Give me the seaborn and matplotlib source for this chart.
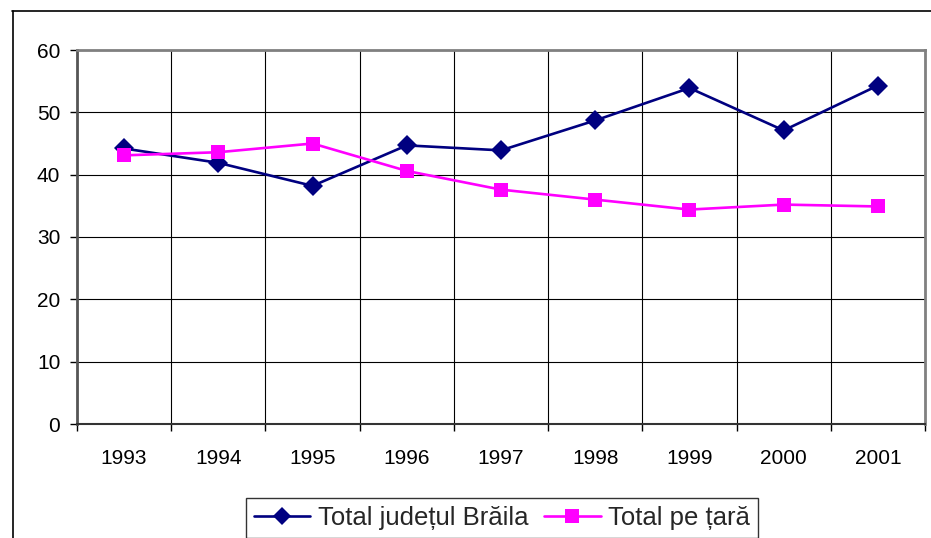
import pandas as pd
import numpy as np
import matplotlib.pyplot as plt
import seaborn as sns
from matplotlib.lines import Line2D

years = ['1993', '1994', '1995', '1996', '1997', '1998', '1999', '2000', '2001']
braila = [44.2, 41.9, 38.2, 44.7, 43.9, 48.7, 53.9, 47.1, 54.3]
tara = [43.1, 43.6, 45.0, 40.6, 37.6, 36.0, 34.4, 35.2, 34.9]
series_names = ['Total județul Brăila', 'Total pe țară']

df = pd.DataFrame({
    'An': years * 2,
    'Valoare': braila + tara,
    'Serie': [series_names[0]] * len(years) + [series_names[1]] * len(years),
})

sns.set_theme(style="white")
plt.rcParams['font.family'] = ['Liberation Sans', 'DejaVu Sans']

fig = plt.figure(figsize=(9.31, 5.38), dpi=100)
ax = fig.add_axes([77 / 931, 1 - 424 / 538, 848 / 931, 374 / 538])

colors = ['#000080', '#FF00FF']
sns.lineplot(data=df, x='An', y='Valoare', hue='Serie', style='Serie',
             markers=['D', 's'], dashes=False, palette=colors, sort=False,
             linewidth=1.9, markersize=10, markeredgewidth=0, ax=ax, legend=False)

ax.set_xlim(-0.5, len(years) - 0.5)
ax.set_ylim(0, 60)
ax.set_yticks(np.arange(0, 61, 10))
ax.set_xticks(range(len(years)))
ax.set_xticklabels(years)
ax.set_xticks(np.arange(-0.5, len(years), 1), minor=True)
ax.set_xlabel('')
ax.set_ylabel('')

ax.grid(True, axis='y', which='major', color='black', linewidth=0.8)
ax.grid(True, axis='x', which='minor', color='black', linewidth=0.8)
ax.grid(False, axis='x', which='major')
ax.set_axisbelow(True)

ax.tick_params(axis='y', which='major', length=5, width=1, color='black',
               direction='out', left=True, labelsize=15, pad=7, labelcolor='black')
ax.tick_params(axis='x', which='major', length=0, labelsize=15, pad=18, labelcolor='black')
ax.tick_params(axis='x', which='minor', length=5, width=1, color='black',
               direction='out', bottom=True)

for side in ['top', 'right']:
    ax.spines[side].set_color('#808080')
    ax.spines[side].set_linewidth(2)
ax.spines['left'].set_color('#555555')
ax.spines['left'].set_linewidth(2)
ax.spines['bottom'].set_color('#333333')
ax.spines['bottom'].set_linewidth(1.5)

handles = [
    Line2D([], [], color=colors[0], marker='D', markersize=9, linewidth=1.9, markeredgewidth=0),
    Line2D([], [], color=colors[1], marker='s', markersize=10, linewidth=1.9, markeredgewidth=0),
]
leg = fig.legend(handles, series_names, loc='center', bbox_to_anchor=(502 / 931, 1 - 518 / 538),
                 ncol=2, fontsize=18.5, frameon=True, fancybox=False, handlelength=2.2,
                 handletextpad=0.3, columnspacing=0.6, borderpad=0.3, borderaxespad=0)
leg.get_frame().set_edgecolor('black')
leg.get_frame().set_linewidth(1)

# outer chart frame (cut at right and bottom)
fig.add_artist(Line2D([12 / 931, 1.0], [1 - 10.5 / 538] * 2, color='black', linewidth=1.2,
                      transform=fig.transFigure))
fig.add_artist(Line2D([12.5 / 931] * 2, [0, 1 - 10.5 / 538], color='black', linewidth=1.2,
                      transform=fig.transFigure))

plt.savefig('out.png', dpi=100)
